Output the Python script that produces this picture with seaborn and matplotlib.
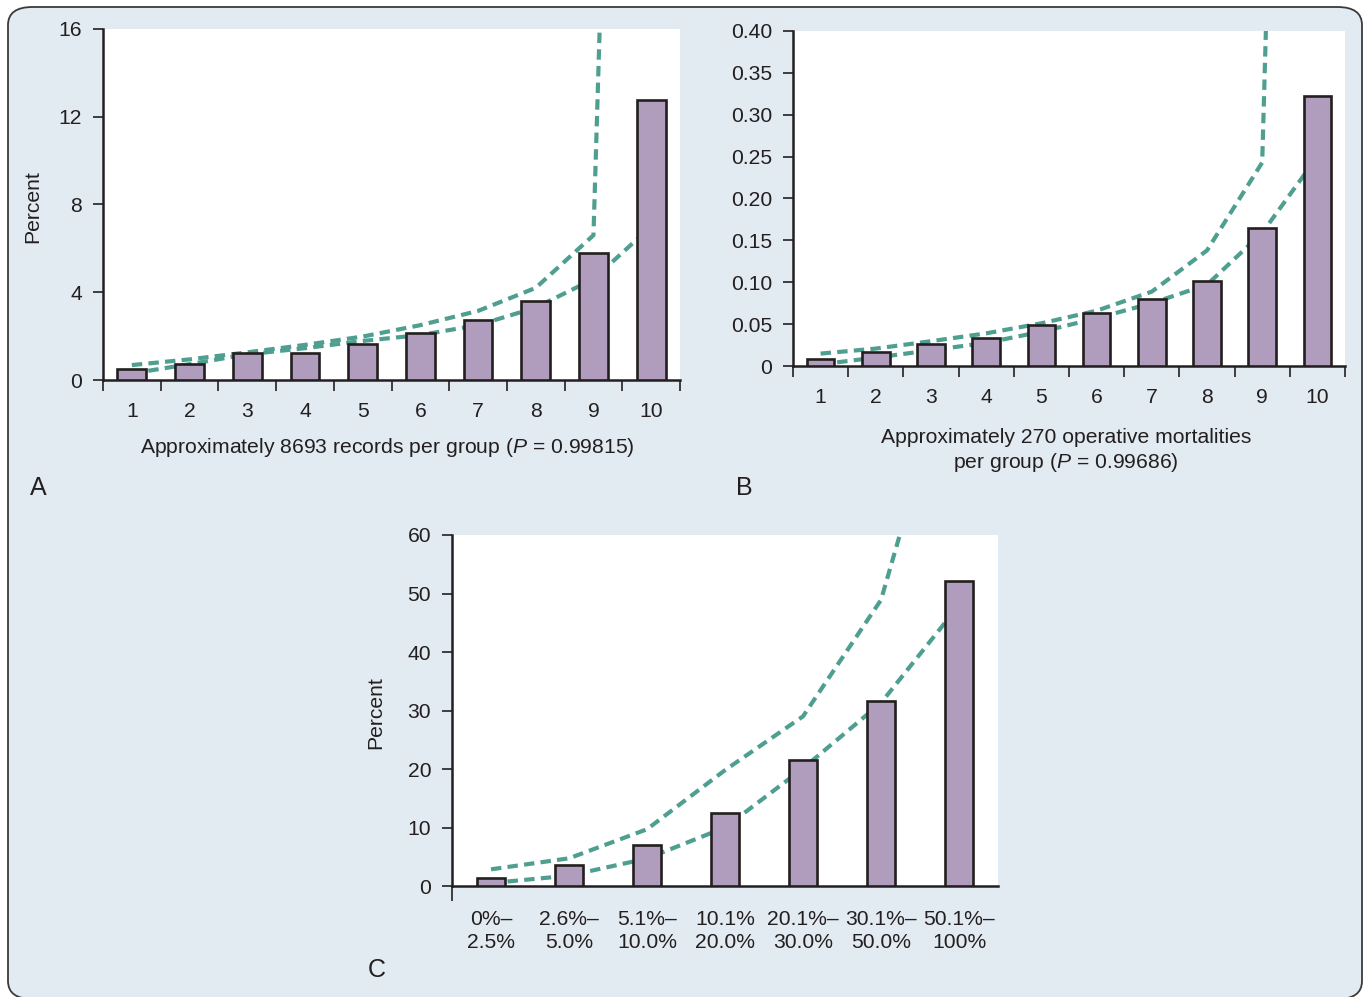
import numpy as np
import pandas as pd
import matplotlib
matplotlib.use("Agg")
import matplotlib.pyplot as plt
from matplotlib.patches import FancyBboxPatch
import seaborn as sns

# ---------------- data ----------------
groups_a = ["1", "2", "3", "4", "5", "6", "7", "8", "9", "10"]
pct_a = [0.49, 0.73, 1.22, 1.25, 1.64, 2.14, 2.75, 3.62, 5.78, 12.76]
upper_a = [0.68, 0.94, 1.26, 1.60, 1.98, 2.50, 3.15, 4.20, 6.60, 94.0]
lower_a = [0.30, 0.72, 1.17, 1.45, 1.78, 2.05, 2.50, 3.30, 4.60, 7.00]

groups_b = ["1", "2", "3", "4", "5", "6", "7", "8", "9", "10"]
pct_b = [0.008, 0.0164, 0.026, 0.0336, 0.0488, 0.0632, 0.0804, 0.102, 0.1644, 0.3224]
upper_b = [0.0148, 0.0208, 0.0296, 0.039, 0.051, 0.066, 0.0888, 0.138, 0.243, 2.6]
lower_b = [0.002, 0.010, 0.0188, 0.0276, 0.041, 0.057, 0.075, 0.097, 0.159, 0.250]

groups_c = ["0%–\n2.5%", "2.6%–\n5.0%", "5.1%–\n10.0%", "10.1%\n20.0%",
            "20.1%–\n30.0%", "30.1%–\n50.0%", "50.1%–\n100%"]
pct_c = [1.31, 3.59, 7.0, 12.5, 21.5, 31.7, 52.1]
upper_c = [2.85, 4.73, 9.7, 19.8, 29.0, 48.9, 95.0]
lower_c = [0.5, 1.77, 4.7, 10.0, 20.1, 31.3, 48.0]

yticks_a = [0, 4, 8, 12, 16]
yticks_b = [0, 0.05, 0.10, 0.15, 0.20, 0.25, 0.30, 0.35, 0.40]
ytick_labels_b = ["0", "0.05", "0.10", "0.15", "0.20", "0.25", "0.30", "0.35", "0.40"]
yticks_c = [0, 10, 20, 30, 40, 50, 60]

xlabel_a = "Approximately 8693 records per group ($\\it{P}$ = 0.99815)"
xlabel_b = "Approximately 270 operative mortalities\nper group ($\\it{P}$ = 0.99686)"

# ---------------- style ----------------
sns.set_theme(style="ticks")
plt.rcParams["font.family"] = ["Liberation Sans", "DejaVu Sans"]
plt.rcParams["mathtext.fontset"] = "custom"
plt.rcParams["mathtext.it"] = "Liberation Sans:italic"
plt.rcParams["mathtext.rm"] = "Liberation Sans"

BG = "#e3ebf2"
BAR = "#b09cbc"
EDGE = "#231f20"
LINE = "#4f9f90"
TXT = "#231f20"
FS = 15.2

W, H = 1367, 997
fig = plt.figure(figsize=(W / 100, H / 100), dpi=100, facecolor="white")

# rounded background panel
panel = FancyBboxPatch((8 / W, -2 / H), 1354 / W, 992 / H,
                       boxstyle="round,pad=0,rounding_size=0.018",
                       transform=fig.transFigure, facecolor=BG,
                       edgecolor="#3a3a3a", linewidth=1.3, zorder=-10)
fig.patches.append(panel)


def px_axes(left, top, right, bottom):
    ax = fig.add_axes([left / W, (H - bottom) / H, (right - left) / W, (bottom - top) / H])
    ax.set_zorder(5)
    return ax


def draw_panel(ax, groups, pct, upper, lower, ylim, yticks, ylabels, width, boundary_ticks):
    df = pd.DataFrame({"group": groups, "pct": pct})
    sns.barplot(data=df, x="group", y="pct", order=groups, color=BAR,
                edgecolor=EDGE, linewidth=1.9, width=width, saturation=1,
                ax=ax, zorder=3)
    pos = np.arange(len(groups))
    for series in (upper, lower):
        ax.plot(pos, series, color=LINE, linewidth=3.0,
                linestyle=(0, (2.5, 1.5)), zorder=2, dash_capstyle="butt")
    ax.set_facecolor("white")
    ax.set_xlim(-0.5, len(groups) - 0.5)
    ax.set_ylim(*ylim)
    ax.set_yticks(yticks)
    ax.set_yticklabels(ylabels)
    ax.set_xticks(pos)
    ax.set_xticklabels(groups)
    ax.set_xticks(boundary_ticks, minor=True)
    for s in ("top", "right"):
        ax.spines[s].set_visible(False)
    for s in ("left", "bottom"):
        ax.spines[s].set_color(EDGE)
        ax.spines[s].set_linewidth(1.8)
    ax.tick_params(axis="x", which="major", length=0, pad=16, labelsize=FS, colors=TXT)
    ax.tick_params(axis="x", which="minor", length=8, width=1.2, direction="out", color=EDGE)
    ax.tick_params(axis="y", which="major", length=7, width=1.2, direction="out",
                   pad=8, labelsize=FS, colors=TXT)
    ax.set_xlabel("")
    ax.set_ylabel("")


# Panel A
axA = px_axes(103, 29, 680, 380)
draw_panel(axA, groups_a, pct_a, upper_a, lower_a, (0, 16), yticks_a,
           [str(v) for v in yticks_a], 0.5, np.arange(-0.5, 10, 1))
axA.set_ylabel("Percent", fontsize=FS, color=TXT, va="center")
axA.yaxis.set_label_coords(-0.121, 0.493)
axA.set_xlabel(xlabel_a, fontsize=FS, color=TXT)
axA.xaxis.set_label_coords(0.492, -0.193)
axA.xaxis.label.set_va("center")

# Panel B
axB = px_axes(793, 31, 1345, 366)
draw_panel(axB, groups_b, pct_b, upper_b, lower_b, (0, 0.40), yticks_b,
           ytick_labels_b, 0.5, np.arange(-0.5, 10, 1))
axB.set_xlabel(xlabel_b, fontsize=FS, color=TXT, linespacing=1.25)
axB.xaxis.set_label_coords(0.495, -0.253)
axB.xaxis.label.set_va("center")

# Panel C
axC = px_axes(452, 535, 998, 886)
draw_panel(axC, groups_c, pct_c, upper_c, lower_c, (0, 60), yticks_c,
           [str(v) for v in yticks_c], 0.36, [-0.5])
axC.tick_params(axis="x", which="minor", length=11)
for t in axC.get_xticklabels():
    t.set_linespacing(1.3)
axC.tick_params(axis="x", which="major", pad=17)
axC.set_ylabel("Percent", fontsize=FS, color=TXT, va="center")
axC.yaxis.set_label_coords(-0.139, 0.493)

# panel letters
for letter, x, y in (("A", 38, 488), ("B", 744, 488), ("C", 377, 970)):
    fig.text(x / W, 1 - y / H, letter, fontsize=18, color=TXT, ha="center", va="center")

fig.savefig("out.png", dpi=100, facecolor="white")
